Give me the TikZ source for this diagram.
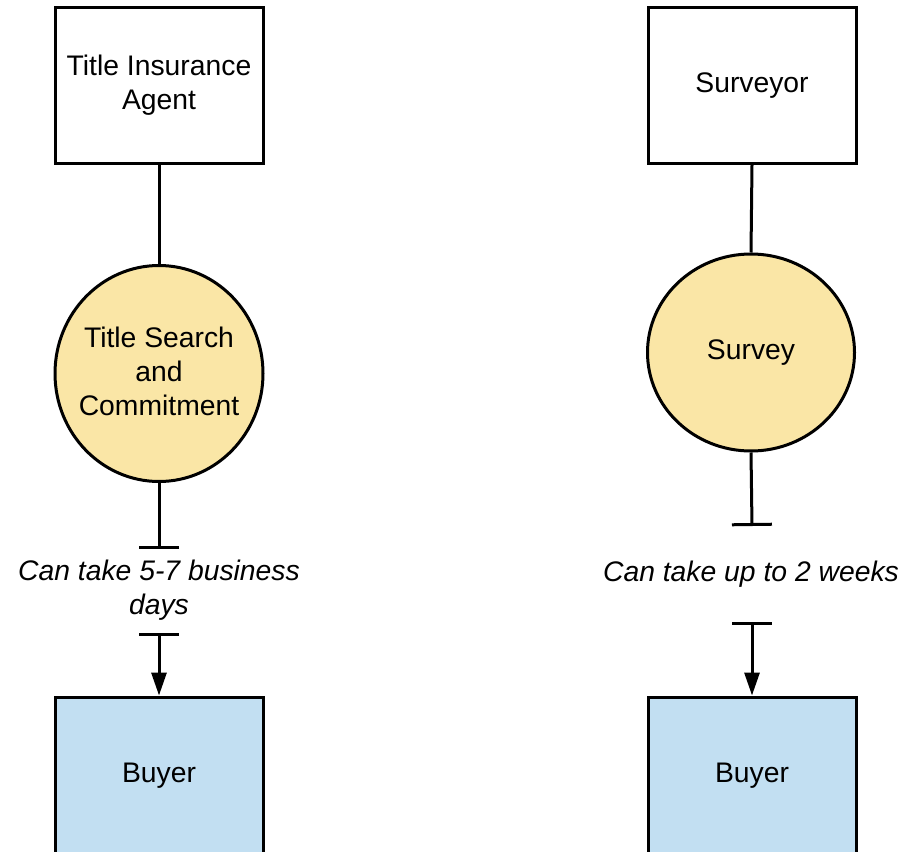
\documentclass[tikz,border=0pt]{standalone}
\usepackage{fontspec}
\setmainfont{Liberation Sans}
\usetikzlibrary{shapes.geometric,arrows.meta}
\definecolor{evfill}{HTML}{FAE6A6}
\definecolor{buyfill}{HTML}{C2DFF2}
\begin{document}
\begin{tikzpicture}[x=1pt,y=-1pt,
  every node/.style={font=\fontsize{28.3}{34.3}\selectfont, align=center},
  every label/.style={font=\fontsize{28.3}{34.3}\selectfont, align=center},
  actor/.style={draw=black, line width=3pt, rectangle, minimum width=208pt, minimum height=155pt, inner sep=0pt},
  buyerbox/.style={draw=black, line width=3pt, rectangle, fill=buyfill, minimum width=208pt, minimum height=170pt, inner sep=0pt},
  event/.style={draw=black, line width=3pt, ellipse, fill=evfill, inner sep=0pt},
  note/.style={font=\fontsize{28.3}{34.3}\selectfont\itshape},
  conn/.style={line width=3pt, draw=black},
  stopbar/.style={-{Bar[width=40pt,line width=3pt]}},
  startarrow/.style={{Bar[width=40pt,line width=3pt]}-{Triangle[width=15pt,length=23pt]}}
]
\clip (0,0) rectangle (904,851);
\fill[white] (0,0) rectangle (904,851);
% left column
\node[actor] (tia) at (159,85.5) {Title Insurance\\Agent};
\node[event, minimum width=208pt, minimum height=216pt,
  label={[yshift=2pt]center:Title Search\\and\\Commitment}] (tsc) at (159,373.5) {};
\coordinate (lt1) at (159,549);
\node[note] (ln) at (159,590) {Can take 5-7 business\\days};
\coordinate (lt2) at (159,633);
\node[buyerbox, label={[yshift=6pt]center:Buyer}] (lb) at (159,782) {};
\draw[conn] (tia.south) -- (tsc.north);
\draw[conn, stopbar] (tsc.south) -- (lt1);
\draw[conn, startarrow] (lt2) -- (lb.north);
% right column
\node[actor] (sur) at (752,85.5) {Surveyor};
\node[event, minimum width=207pt, minimum height=197pt] (svy) at (751,352.5) {Survey};
\coordinate (rt1) at (752,526);
\node[note] (rn) at (751,574) {Can take up to 2 weeks};
\coordinate (rt2) at (752,622);
\node[buyerbox, label={[yshift=6pt]center:Buyer}] (rb) at (752,782) {};
\draw[conn] (sur.south) -- (svy.north);
\draw[conn, stopbar] (svy.south) -- (rt1);
\draw[conn, startarrow] (rt2) -- (rb.north);
\end{tikzpicture}
\end{document}
